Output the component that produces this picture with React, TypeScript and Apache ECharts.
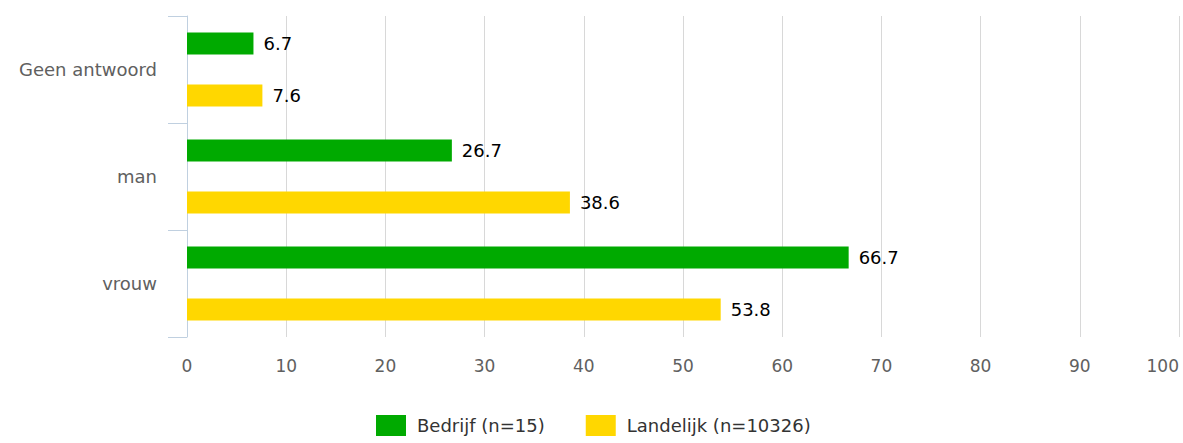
import React, { useEffect, useRef } from "react";
import * as echarts from "echarts";

const categories = ["Geen antwoord", "man", "vrouw"];
const bedrijf = [6.7, 26.7, 66.7];
const landelijk = [7.6, 38.6, 53.8];
const seriesNames = ["Bedrijf (n=15)", "Landelijk (n=10326)"];

const FONT = "'DejaVu Sans', Verdana, sans-serif";

export default function App() {
  const ref = useRef<HTMLDivElement>(null);
  useEffect(() => {
    document.body.style.margin = "0";
    const chart = echarts.init(ref.current!, null, { renderer: "svg" });
    const label = {
      show: true,
      position: "right" as const,
      distance: 10,
      color: "#000",
      fontSize: 18,
      fontFamily: FONT,
    };
    chart.setOption({
      animation: false,
      textStyle: { fontFamily: FONT },
      grid: { left: 187, right: 4, top: 16, bottom: 106, containLabel: false },
      xAxis: {
        type: "value",
        min: 0,
        max: 100,
        interval: 10,
        axisLine: { show: false },
        axisTick: { show: false },
        axisLabel: {
          color: "#606060",
          fontSize: 17,
          fontFamily: FONT,
          margin: 20,
          alignMaxLabel: "right",
        },
        splitLine: { show: true, lineStyle: { color: "#d8d8d8", width: 1 } },
      },
      yAxis: {
        type: "category",
        data: categories,
        inverse: true,
        axisLine: { show: true, lineStyle: { color: "#c0d0e0", width: 1 } },
        axisTick: { show: true, length: 19, lineStyle: { color: "#c0d0e0", width: 1 } },
        axisLabel: {
          color: "#606060",
          fontSize: 18,
          fontFamily: FONT,
          margin: 30,
        },
        splitLine: { show: false },
      },
      legend: {
        bottom: 2,
        left: 371,
        itemWidth: 30,
        itemHeight: 21,
        itemGap: 41,
        icon: "rect",
        textStyle: { color: "#333", fontSize: 18, fontFamily: FONT, padding: [0, 0, 0, 6] },
        data: seriesNames,
      },
      series: [
        {
          name: seriesNames[0],
          type: "bar",
          data: bedrijf,
          barWidth: 22,
          barGap: "136%",
          itemStyle: { color: "#00aa00" },
          label,
        },
        {
          name: seriesNames[1],
          type: "bar",
          data: landelijk,
          barWidth: 22,
          barGap: "136%",
          itemStyle: { color: "#ffd700" },
          label,
        },
      ],
    });
    return () => chart.dispose();
  }, []);
  return <div ref={ref} style={{ width: 1183, height: 443 }} />;
}
